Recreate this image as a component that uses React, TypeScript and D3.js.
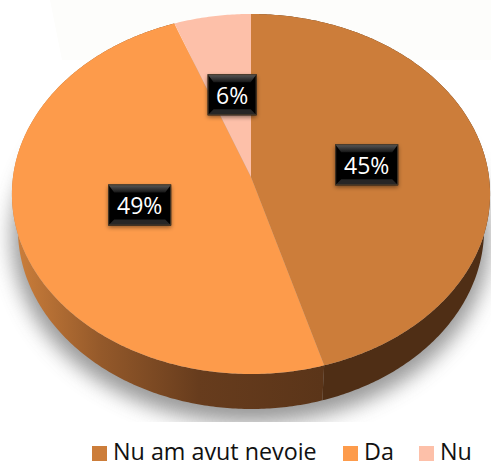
import React from "react";
import * as d3 from "d3";

const categories = ["Nu am avut nevoie", "Da", "Nu"];
const shares = [45.49, 48.81, 5.7];
const percentLabels = ["45%", "49%", "6%"];
const topColors = ["#cc7d3a", "#fd9b4b", "#fdc0a9"];

const WIDTH = 491;
const HEIGHT = 462;
const FONT = "'Open Sans', sans-serif";

// the pie lies tilted, so the unit disc goes through a small perspective map
const CX = 251;
const CY = 177;
const SCALE_X = 238;
const SCALE_Y = 161.7;
const TILT = -0.0944;
const DEPTH = 35;
const RIM_SCALE = 0.975;
const LABEL_RADIUS = 0.49;

const LABEL_H = 41;
const BEVEL = 6;

const legendX = [92, 343, 419];
const SWATCH = 15;

type Pt = [number, number];

function project(angle: number, r = 1): Pt {
  const u = r * Math.sin(angle);
  const v = -r * Math.cos(angle);
  const d = 1 + TILT * v;
  return [CX + (SCALE_X * u) / d, (SCALE_Y * v + CY) / d];
}

function rimPoint(angle: number): Pt {
  const [x, y] = project(angle);
  return [CX + (x - CX) * RIM_SCALE, y + DEPTH];
}

const line = d3.line<Pt>().curve(d3.curveLinear);

function sample(a0: number, a1: number, f: (a: number) => Pt): Pt[] {
  const n = Math.max(2, Math.ceil(Math.abs(a1 - a0) * 90));
  return d3.range(n + 1).map((i) => f(a0 + ((a1 - a0) * i) / n));
}

const arcs = d3.pie<number>().sort(null)(shares);

function topPath(a0: number, a1: number) {
  return line([[CX, CY], ...sample(a0, a1, (a) => project(a))]) + "Z";
}

function sidePath(a0: number, a1: number) {
  return line([...sample(a0, a1, (a) => project(a)), ...sample(a1, a0, rimPoint)]) + "Z";
}

const rimOutline = line(sample(0, Math.PI * 2, rimPoint)) + "Z";

function ValueLabel({ text, angle }: { text: string; angle: number }) {
  const [px, cy] = project(angle, LABEL_RADIUS);
  const cx = px + 1;
  const w = text.length === 2 ? 49 : 63;
  const h = LABEL_H;
  const x = cx - w / 2;
  const y = cy - h / 2;
  return (
    <g>
      <rect x={x} y={y} width={w} height={h} fill="#000" filter="url(#labelShadow)" />
      <path
        d={`M${x},${y}h${w}l${-BEVEL},${BEVEL + 2}h${-(w - 2 * BEVEL)}Z`}
        fill="url(#bevelTop)"
      />
      <path
        d={`M${x},${y + h}h${w}l${-BEVEL},${-BEVEL}h${-(w - 2 * BEVEL)}Z`}
        fill="#262626"
      />
      <rect x={x + 0.5} y={y + 0.5} width={w - 1} height={h - 1} fill="none" stroke="#4a3a28" />
      <text
        x={cx}
        y={cy + 9}
        textAnchor="middle"
        fontFamily={FONT}
        fontSize={23}
        fill="#fff"
      >
        {text}
      </text>
    </g>
  );
}

export default function App() {
  return (
    <svg
      width={WIDTH}
      height={HEIGHT}
      style={{ position: "absolute", left: 0, top: 0, background: "#fff" }}
    >
      <defs>
        <linearGradient id="sideLeft" gradientUnits="userSpaceOnUse" x1={16} x2={321} y1={0} y2={0}>
          <stop offset="0" stopColor="#cb7e3b" />
          <stop offset="0.28" stopColor="#94592a" />
          <stop offset="0.6" stopColor="#673c1d" />
          <stop offset="1" stopColor="#5b3519" />
        </linearGradient>
        <linearGradient id="bevelTop" x1="0" x2="0" y1="0" y2="1">
          <stop offset="0" stopColor="#5c5c5c" />
          <stop offset="1" stopColor="#161616" />
        </linearGradient>
        <filter id="pieShadow" x="-20%" y="-20%" width="140%" height="140%">
          <feGaussianBlur stdDeviation="10" />
        </filter>
        <filter id="labelShadow" x="-20%" y="-20%" width="140%" height="140%">
          <feDropShadow dx="0" dy="2" stdDeviation="2" floodColor="#000" floodOpacity="0.45" />
        </filter>
        <clipPath id="shadowClip">
          <rect x={0} y={0} width={WIDTH} height={422} />
        </clipPath>
      </defs>

      <path d="M50,0H491V60H62Z" fill="#fdfdfb" />

      <g clipPath="url(#shadowClip)">
        <path
          d={rimOutline}
          transform="translate(0,8)"
          fill="#808080"
          stroke="#808080"
          strokeWidth={12}
          opacity={0.8}
          filter="url(#pieShadow)"
        />
      </g>

      <path d={sidePath(arcs[0].startAngle, arcs[0].endAngle)} fill="#4f2e15" />
      <path d={sidePath(arcs[1].startAngle, arcs[1].endAngle)} fill="url(#sideLeft)" />

      {arcs.map((a, i) => (
        <path key={i} d={topPath(a.startAngle, a.endAngle)} fill={topColors[i]} />
      ))}

      {arcs.map((a, i) => (
        <ValueLabel
          key={i}
          text={percentLabels[i]}
          angle={(a.startAngle + a.endAngle) / 2}
        />
      ))}

      {categories.map((c, i) => (
        <g key={c}>
          <rect x={legendX[i]} y={446} width={SWATCH} height={SWATCH} fill={topColors[i]} />
          <text
            x={legendX[i] + SWATCH + 6}
            y={460}
            fontFamily={FONT}
            fontSize={23.3}
            fill="#111"
          >
            {c}
          </text>
        </g>
      ))}
    </svg>
  );
}
